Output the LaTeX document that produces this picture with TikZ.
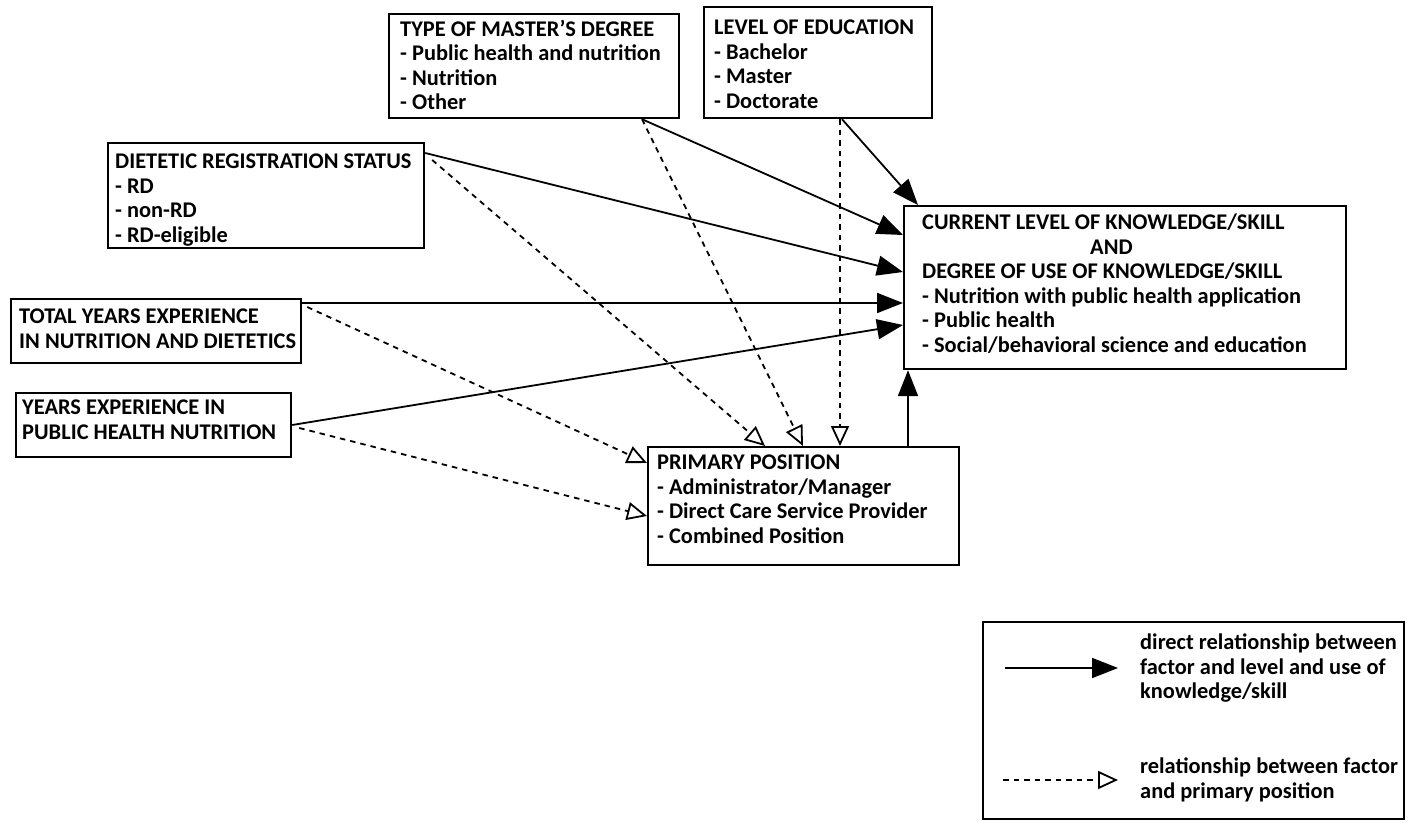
\documentclass[tikz,border=0pt]{standalone}
\usepackage{fontspec}
\setmainfont{Carlito}
\usetikzlibrary{arrows.meta,calc}
\begin{document}
\begin{tikzpicture}[x=1pt,y=-1pt,
 box/.style={draw, line width=2.2pt, inner sep=0pt, anchor=north west},
 txt/.style={inner sep=0pt, anchor=north west, align=left, font=\fontsize{22.4}{24.5}\selectfont\bfseries},
 solidarrow/.style={line width=1.8pt, -{Triangle[length=26pt,width=20pt]}},
 dasharrow/.style={line width=1.8pt, dash pattern=on 5.5pt off 5pt, -{Triangle[open,length=20pt,width=18pt,fill=white]}}]
\useasboundingbox[fill=white] (0,0) rectangle (1411,824);
% boxes
\node[box, minimum width=290pt, minimum height=104pt] (mast) at (388,13) {};
\node[box, minimum width=228pt, minimum height=111pt] (edu) at (703,6) {};
\node[box, minimum width=316pt, minimum height=105pt] (diet) at (107,142) {};
\node[box, minimum width=290pt, minimum height=64pt] (tot) at (10,298) {};
\node[box, minimum width=275pt, minimum height=64pt] (yph) at (15,392) {};
\node[box, minimum width=442pt, minimum height=163pt] (cur) at (903,205) {};
\node[box, minimum width=311pt, minimum height=118pt] (prim) at (647,446) {};
\node[box, minimum width=421pt, minimum height=197pt] (leg) at (982,621) {};
% texts
\node[txt] (mastt) at (400,20) {TYPE OF MASTER'S DEGREE\\- Public health and nutrition\\- Nutrition\\- Other};
\node[txt] (edut) at (714,20) {LEVEL OF EDUCATION\\- Bachelor\\- Master\\- Doctorate};
\node[txt] (diett) at (115,154) {DIETETIC REGISTRATION STATUS\\- RD\\- non-RD\\- RD-eligible};
\node[txt] (tott) at (19,309) {TOTAL YEARS EXPERIENCE\\IN NUTRITION AND DIETETICS};
\node[txt] (ypht) at (22,400) {YEARS EXPERIENCE IN\\PUBLIC HEALTH NUTRITION};
\node[txt] (curt) at (922,214) {CURRENT LEVEL OF KNOWLEDGE/SKILL\\\hspace*{168pt}AND\\DEGREE OF USE OF KNOWLEDGE/SKILL\\- Nutrition with public health application\\- Public health\\- Social/behavioral science and education};
\node[txt] (primt) at (657,455) {PRIMARY POSITION\\- Administrator/Manager\\- Direct Care Service Provider\\- Combined Position};
\node[txt] (leg1) at (1140,634) {direct relationship between\\factor and level and use of\\knowledge/skill};
\node[txt] (leg2) at (1140,758) {relationship between factor\\and primary position};
% solid connectors
\draw[solidarrow] ($(edu.south west)+(139,0)$) -- ($(cur.north west)+(15,0)$);
\draw[solidarrow] ($(mast.south west)+(254,0)$) -- ($(cur.north west)+(0,30)$);
\draw[solidarrow] ($(diet.north east)+(0,11)$) -- ($(cur.north west)+(0,67)$);
\draw[solidarrow] ($(tot.north east)+(0,5)$) -- ($(cur.north west)+(0,98)$);
\draw[solidarrow] ($(yph.north east)+(0,33)$) -- ($(cur.north west)+(0,120)$);
\draw[solidarrow] ($(prim.north west)+(261,0)$) -- ($(cur.south west)+(5,0)$);
% dashed connectors
\draw[dasharrow] ($(diet.north east)+(7,18)$) -- ($(prim.north west)+(118,0)$);
\draw[dasharrow] ($(mast.south west)+(254,0)$) -- ($(prim.north west)+(156,0)$);
\draw[dasharrow] ($(edu.south west)+(137,0)$) -- ($(prim.north west)+(193,0)$);
\draw[dasharrow] ($(tot.north east)+(5,9)$) -- ($(prim.north west)+(0,17)$);
\draw[dasharrow] ($(yph.north east)+(7,36)$) -- ($(prim.north west)+(0,70)$);
% legend
\coordinate (l1a) at (1005,668);
\coordinate (l1b) at (1118,668);
\coordinate (l2a) at (1003,780);
\coordinate (l2b) at (1118,780);
\draw[solidarrow] (l1a) -- (l1b);
\draw[dasharrow] (l2a) -- (l2b);
\end{tikzpicture}
\end{document}
